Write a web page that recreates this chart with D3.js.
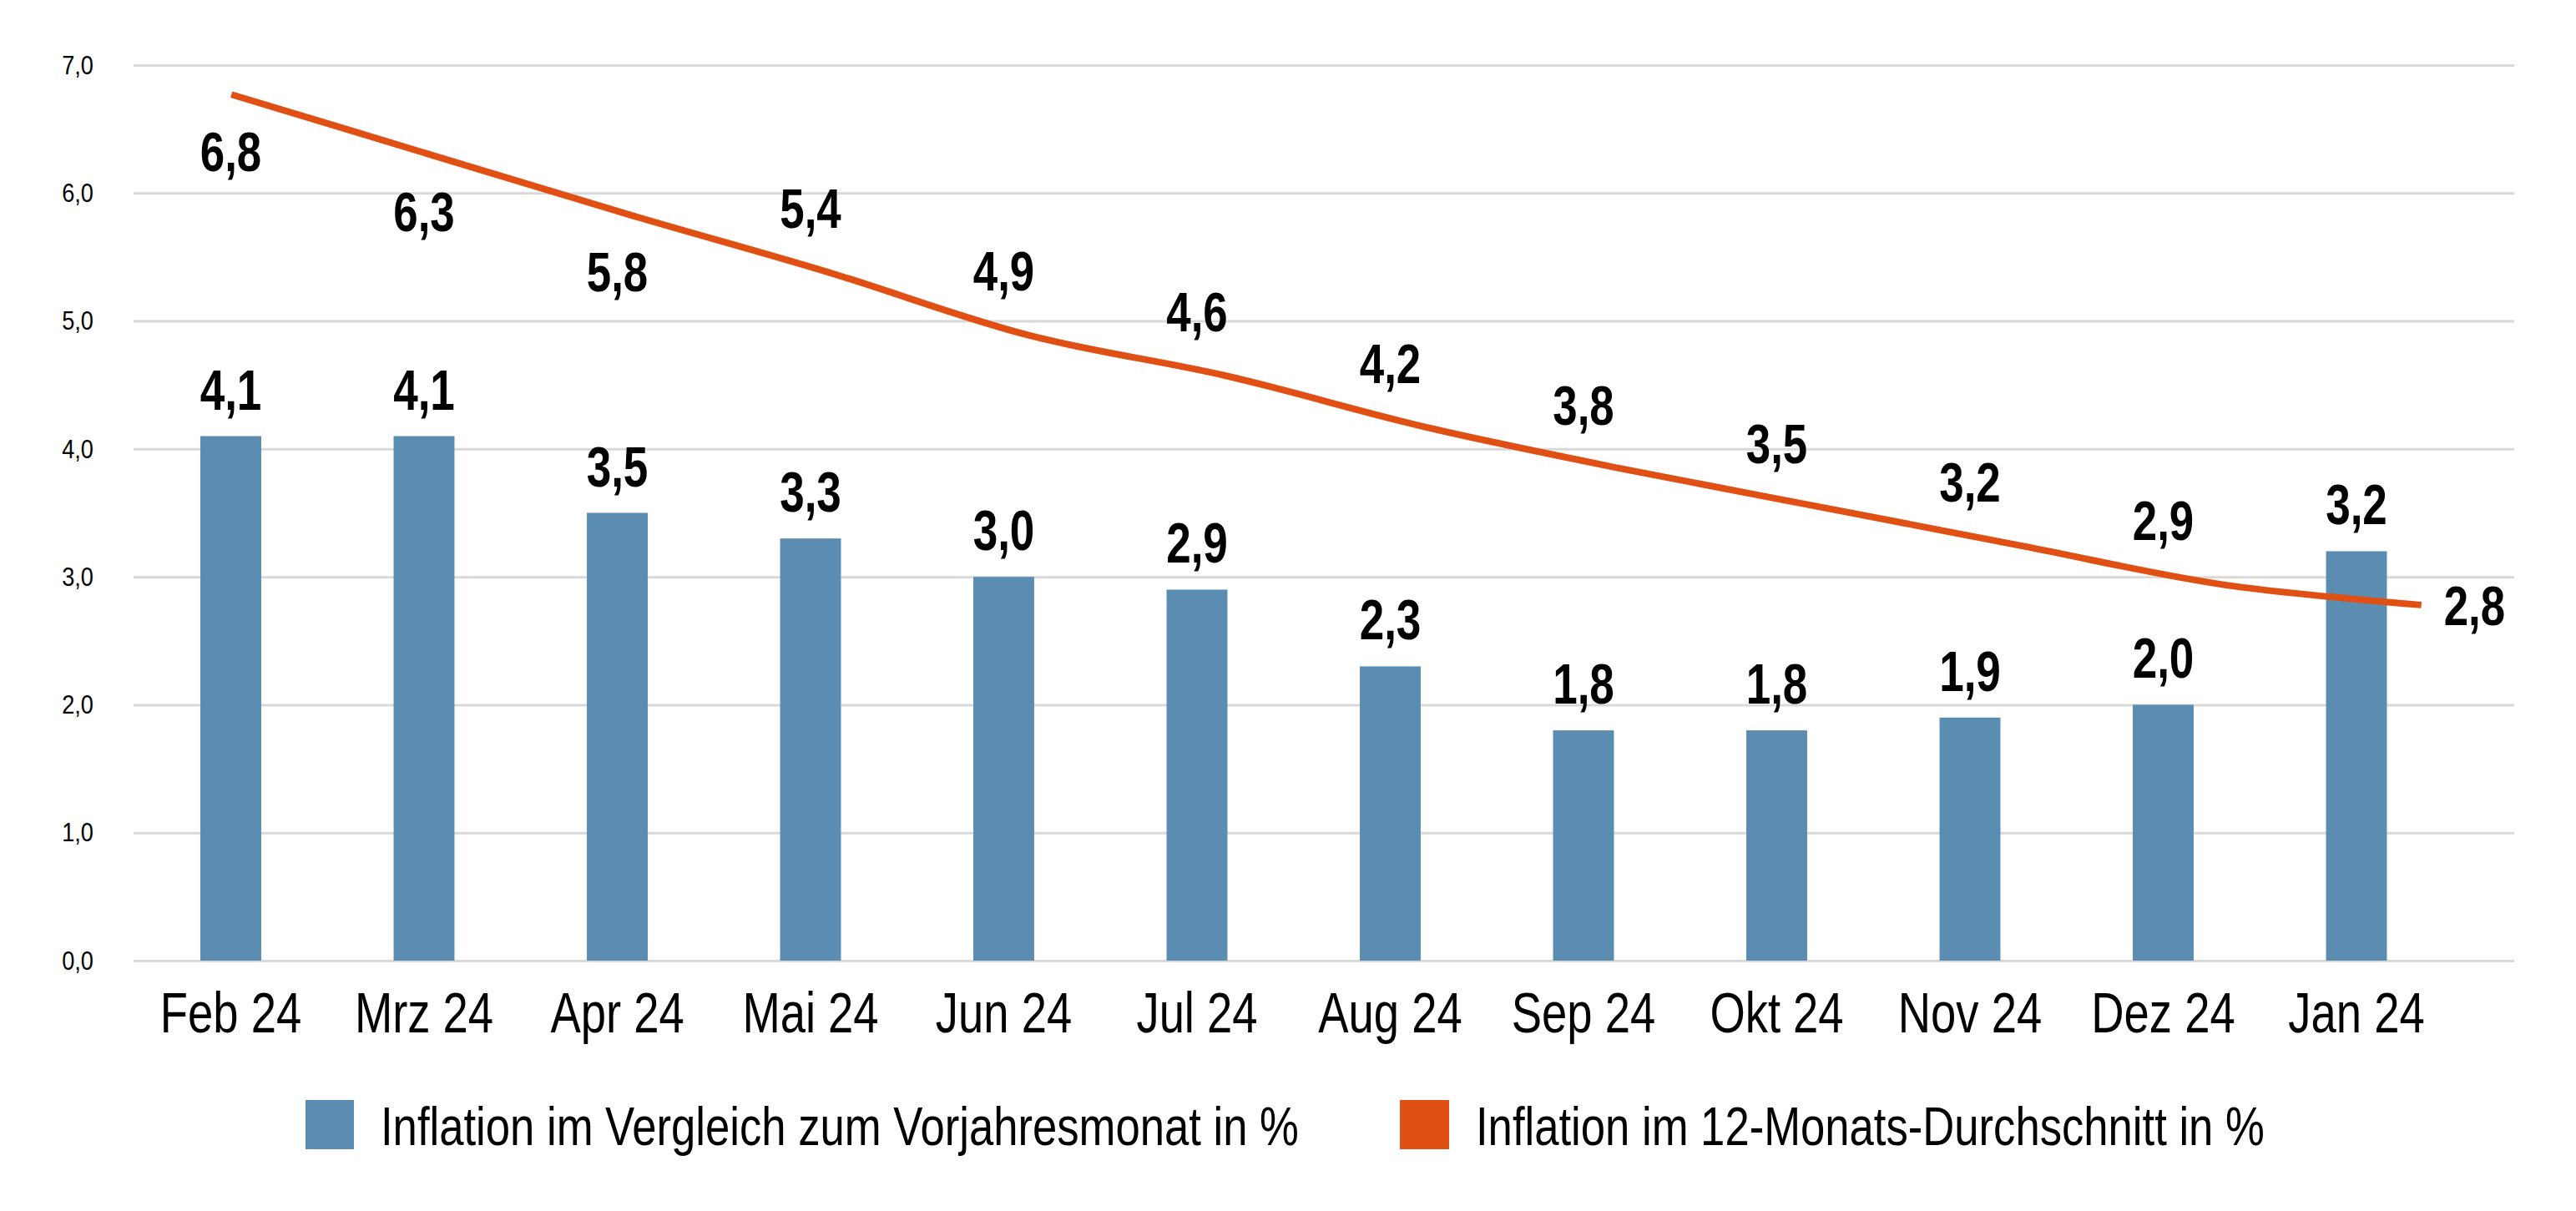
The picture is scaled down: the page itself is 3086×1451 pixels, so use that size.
<!DOCTYPE html>
<html>
<head>
<meta charset="utf-8">
<script src="https://cdn.jsdelivr.net/npm/d3@7"></script>
<style>
  html, body { margin: 0; padding: 0; background: #fff; }
  svg { display: block; font-family: "Liberation Sans", Arial, sans-serif; }
</style>
</head>
<body>
<svg id="chart" width="3086" height="1451"></svg>
<script>
// Daten
const months = ['Feb 24', 'Mrz 24', 'Apr 24', 'Mai 24', 'Jun 24', 'Jul 24',
  'Aug 24', 'Sep 24', 'Okt 24', 'Nov 24', 'Dez 24', 'Jan 24'];
const yoyValues = [4.1, 4.1, 3.5, 3.3, 3.0, 2.9, 2.3, 1.8, 1.8, 1.9, 2.0, 3.2];
const avgValues = [6.77, 6.30, 5.83, 5.38, 4.89, 4.57, 4.17, 3.84, 3.54, 3.24, 2.94, 2.78];
const yTicks = [0, 1, 2, 3, 4, 5, 6, 7];
const seriesNames = [
  'Inflation im Vergleich zum Vorjahresmonat in %',
  'Inflation im 12-Monats-Durchschnitt in %'
];

const BLUE = '#5b8db2';
const ORANGE = '#e05014';
const GRID = '#d9d9d9';

const locale = d3.formatLocale({ decimal: ',', thousands: '.', grouping: [3], currency: ['', '€'] });
const fmt = locale.format('.1f');

// keine Narrow-Schrift installiert -> horizontal stauchen
const narrow = (sel, sx) => {
  sel.each(function () {
    const t = d3.select(this);
    const tx = +t.attr('x') || 0;
    const ty = +t.attr('y') || 0;
    t.attr('transform', `translate(${tx},${ty}) scale(${sx},1)`)
      .attr('x', 0)
      .attr('y', 0);
  });
};

const svg = d3.select('#chart');

const plotLeft = 160;
const plotRight = 3012;

const x = d3.scaleBand()
  .domain(months)
  .range([160.75, 2938.75])
  .paddingInner(0.685)
  .paddingOuter(0.3425);

// Linie liegt auf einer eigenen (sekundären) Achse
const xLine = d3.scalePoint()
  .domain(months)
  .range([158, 3020])
  .padding(0.5);

const y = d3.scaleLinear()
  .domain([0, 7])
  .range([1151, 78]);

// Gitter + y-Achse
const yAxis = svg.append('g')
  .attr('transform', `translate(${plotLeft},0)`)
  .call(d3.axisLeft(y)
    .tickValues(yTicks)
    .tickFormat(fmt)
    .tickSize(-(plotRight - plotLeft))
    .tickPadding(48));
yAxis.attr('font-family', null).attr('font-size', null);
yAxis.select('.domain').remove();
yAxis.selectAll('.tick line')
  .attr('stroke', GRID)
  .attr('stroke-width', 3);
yAxis.selectAll('.tick text')
  .attr('font-size', 32)
  .attr('fill', '#000')
  .call(narrow, 0.85);

// Säulen
const cx = m => x(m) + x.bandwidth() / 2;

svg.append('g')
  .selectAll('rect')
  .data(yoyValues)
  .join('rect')
  .attr('x', (d, i) => x(months[i]))
  .attr('width', x.bandwidth())
  .attr('y', d => y(d))
  .attr('height', d => y(0) - y(d))
  .attr('fill', BLUE);

// x-Achse
const xAxis = svg.append('g')
  .attr('transform', `translate(0,${y(0)})`)
  .call(d3.axisBottom(x).tickSize(0));
xAxis.attr('font-family', null).attr('font-size', null);
xAxis.select('.domain').remove();
xAxis.selectAll('.tick text')
  .attr('dy', null)
  .attr('y', 86)
  .attr('font-size', 68)
  .attr('fill', '#000')
  .call(narrow, 0.8);

// Linie (geglättet)
const line = d3.line()
  .x((d, i) => xLine(months[i]))
  .y(d => y(d))
  .curve(d3.curveCatmullRom.alpha(0.5));

svg.append('path')
  .datum(avgValues)
  .attr('d', line)
  .attr('fill', 'none')
  .attr('stroke', ORANGE)
  .attr('stroke-width', 8);

// Beschriftungen Säulen
svg.append('g')
  .selectAll('text')
  .data(yoyValues)
  .join('text')
  .attr('x', (d, i) => cx(months[i]))
  .attr('y', d => y(d) - 32)
  .attr('text-anchor', 'middle')
  .attr('font-size', 68)
  .attr('font-weight', 'bold')
  .text(d => fmt(d))
  .call(narrow, 0.78);

// Beschriftungen Linie
const last = avgValues.length - 1;
svg.append('g')
  .selectAll('text')
  .data(avgValues)
  .join('text')
  .attr('x', (d, i) => i === last ? xLine(months[i]) + 27 : cx(months[i]))
  .attr('y', (d, i) => {
    if (i === last) return y(d) + 24;
    if (i < 3) return y(d) + 92;
    return y(d) - 53;
  })
  .attr('text-anchor', (d, i) => i === last ? 'start' : 'middle')
  .attr('font-size', 66)
  .attr('font-weight', 'bold')
  .text(d => fmt(d))
  .call(narrow, 0.8);

// Legende
const legend = [
  { name: seriesNames[0], color: BLUE, x: 366, w: 58 },
  { name: seriesNames[1], color: ORANGE, x: 1677, w: 59 }
];
const lg = svg.append('g')
  .selectAll('g')
  .data(legend)
  .join('g');
lg.append('rect')
  .attr('x', d => d.x)
  .attr('y', 1318)
  .attr('width', d => d.w)
  .attr('height', 59)
  .attr('fill', d => d.color);
lg.append('text')
  .attr('x', d => d.x + d.w + 32)
  .attr('y', 1372)
  .attr('font-size', 65)
  .text(d => d.name)
  .call(narrow, 0.81);
</script>
</body>
</html>
